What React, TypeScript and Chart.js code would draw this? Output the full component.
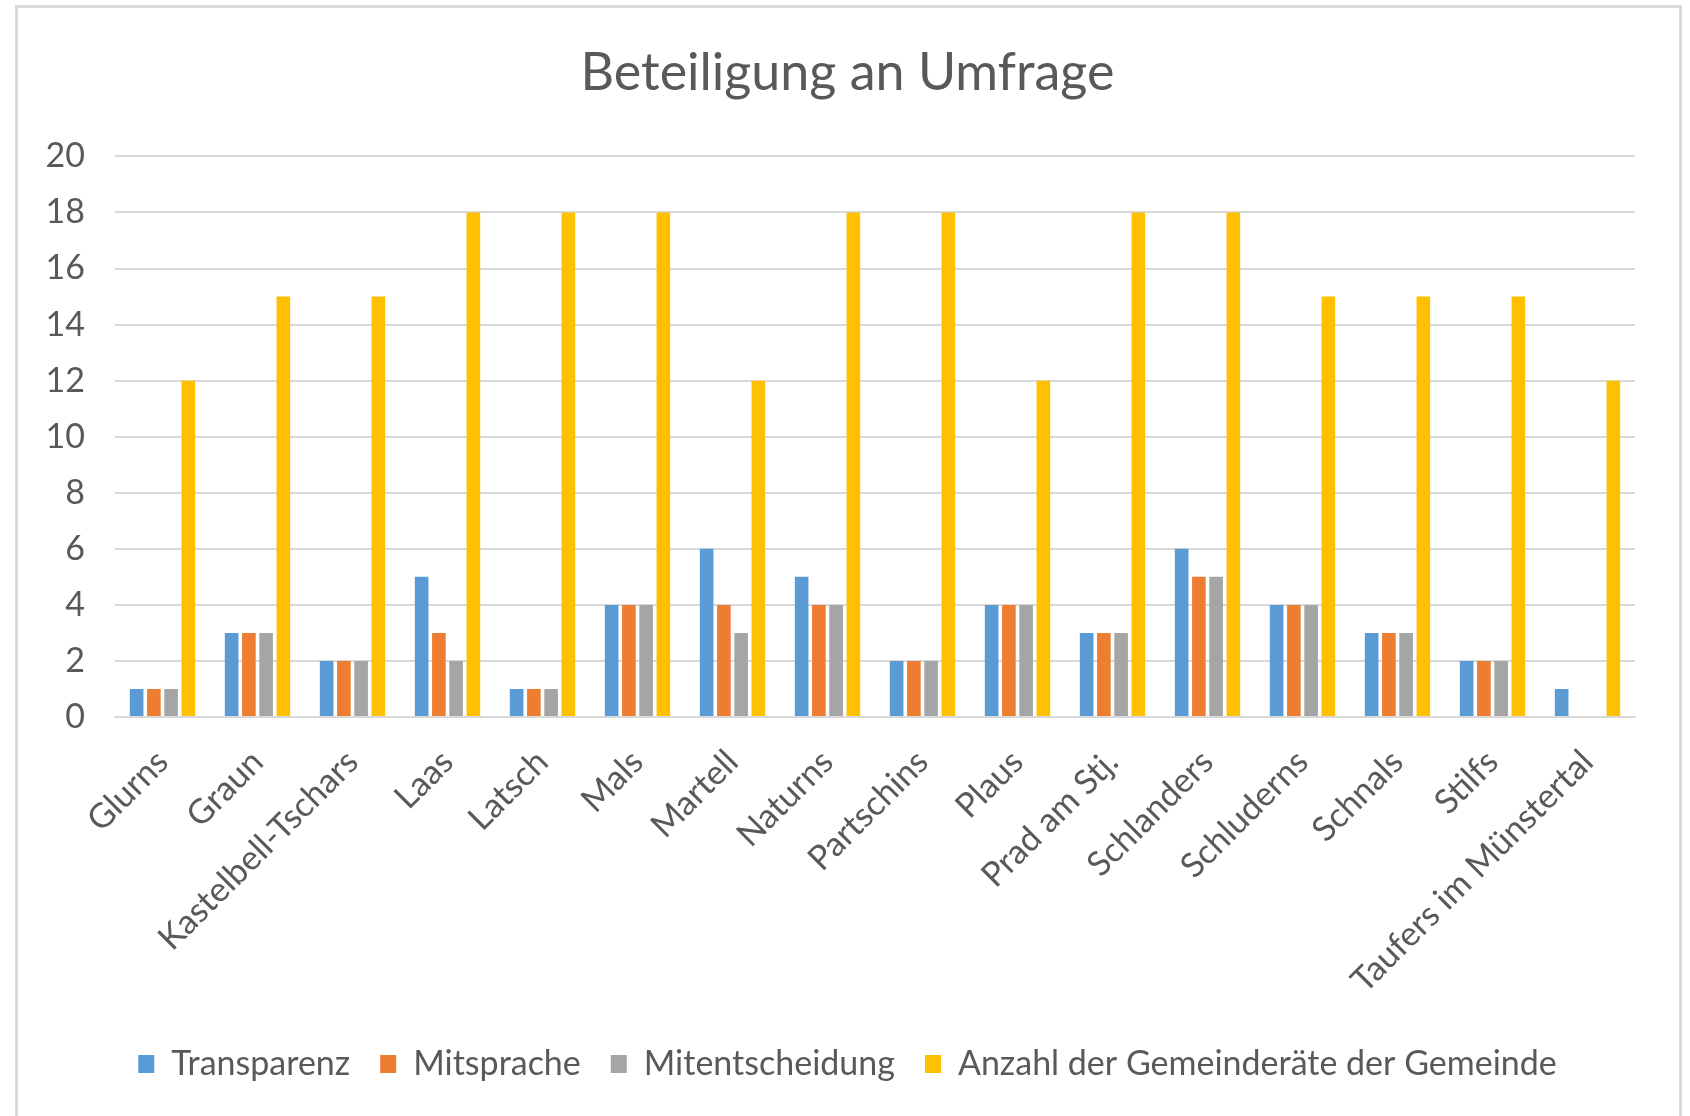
import React, { useEffect, useRef } from "react";
import { Chart, registerables } from "chart.js";

Chart.register(...registerables);

const categories = [
  "Glurns", "Graun", "Kastelbell-Tschars", "Laas", "Latsch", "Mals", "Martell", "Naturns",
  "Partschins", "Plaus", "Prad am Stj.", "Schlanders", "Schluderns", "Schnals", "Stilfs",
  "Taufers im Münstertal",
];
const transparenz = [1, 3, 2, 5, 1, 4, 6, 5, 2, 4, 3, 6, 4, 3, 2, 1];
const mitsprache = [1, 3, 2, 3, 1, 4, 4, 4, 2, 4, 3, 5, 4, 3, 2, 0];
const mitentscheidung = [1, 3, 2, 2, 1, 4, 3, 4, 2, 4, 3, 5, 4, 3, 2, 0];
const gemeinderaete = [12, 15, 15, 18, 18, 18, 12, 18, 18, 12, 18, 18, 15, 15, 15, 12];
const seriesNames = ["Transparenz", "Mitsprache", "Mitentscheidung", "Anzahl der Gemeinderäte der Gemeinde"];
const seriesColors = ["#5B9BD5", "#ED7D31", "#A5A5A5", "#FFC000"];
const titleText = "Beteiligung an Umfrage";

const FONT = "Lato, 'Open Sans', sans-serif";
const TEXT = "#595959";

export default function App() {
  const ref = useRef<HTMLCanvasElement | null>(null);
  useEffect(() => {
    if (!ref.current) return;
    const values = [transparenz, mitsprache, mitentscheidung, gemeinderaete];
    const chart = new Chart(ref.current, {
      type: "bar",
      data: {
        labels: categories,
        datasets: values.map((v, i) => ({
          label: seriesNames[i],
          data: v,
          backgroundColor: seriesColors[i],
          borderWidth: 0,
          categoryPercentage: 0.726,
          barPercentage: 0.79,
        })),
      },
      options: {
        animation: false,
        responsive: true,
        maintainAspectRatio: false,
        layout: { padding: { left: 20, right: 15, top: 6, bottom: 39 } },
        plugins: {
          title: {
            display: true,
            text: titleText,
            color: TEXT,
            font: { family: FONT, size: 52, weight: "normal" },
            padding: { top: 36, bottom: 52 },
          },
          legend: {
            position: "bottom",
            labels: {
              color: TEXT,
              font: { family: FONT, size: 34 },
              boxWidth: 16,
              boxHeight: 18,
              padding: 30,
            },
          },
          tooltip: { enabled: false },
        },
        scales: {
          x: {
            grid: { display: false, drawTicks: false },
            border: { display: true, color: "#D9D9D9", width: 2 },
            ticks: {
              color: TEXT,
              font: { family: FONT, size: 34 },
              maxRotation: 45,
              minRotation: 45,
              autoSkip: false,
              padding: 25,
            },
            afterFit: (s: any) => { s.height = 300; },
          },
          y: {
            min: 0,
            max: 20,
            grid: { color: "#D9D9D9", lineWidth: 2, drawTicks: false },
            border: { display: false },
            ticks: {
              stepSize: 2,
              color: TEXT,
              font: { family: FONT, size: 34 },
              padding: 30,
            },
            afterFit: (s: any) => { s.width = 95; },
          },
          yRight: {
            position: "right",
            display: true,
            min: 0,
            max: 20,
            grid: { display: false, drawTicks: false },
            border: { display: false },
            ticks: { display: false },
            afterFit: (s: any) => { s.width = 40; },
          },
        },
      },
    });
    return () => chart.destroy();
  }, []);

  return (
    <div style={{ position: "fixed", left: 0, top: 0, width: 1690, height: 1116, overflow: "hidden", background: "#fff" }}>
      <div style={{ position: "absolute", left: 15, top: 5, width: 1667, height: 1140, border: "3px solid #D9D9D9", boxSizing: "border-box" }} />
      <div style={{ position: "absolute", left: 0, top: 0, width: 1690, height: 1130 }}>
        <canvas ref={ref} />
      </div>
    </div>
  );
}
